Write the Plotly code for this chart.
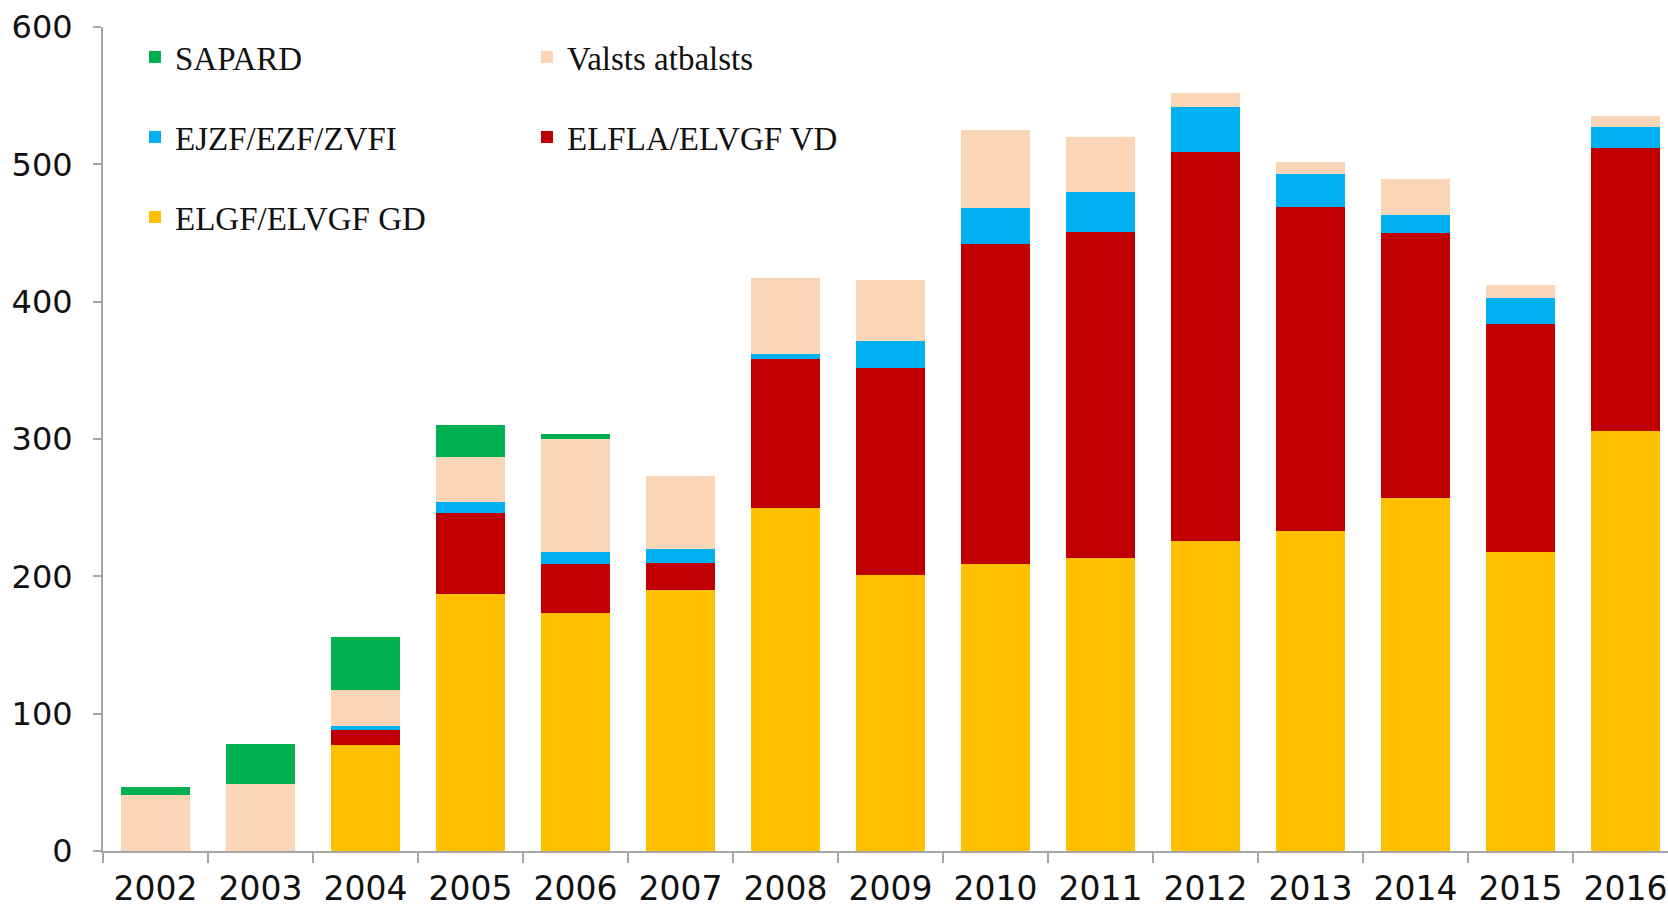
import plotly.graph_objects as go

years = ["2002", "2003", "2004", "2005", "2006", "2007", "2008", "2009",
         "2010", "2011", "2012", "2013", "2014", "2015", "2016"]

elgf = [0, 0, 77, 187, 173, 190, 250, 201, 209, 213, 226, 233, 257, 218, 306]
elfla = [0, 0, 11, 59, 36, 20, 108, 151, 233, 238, 283, 236, 193, 166, 206]
ejzf = [0, 0, 3, 8, 9, 10, 4, 19, 26, 29, 33, 24, 13, 19, 15]
valsts = [41, 49, 26, 33, 82, 53, 55, 45, 57, 40, 10, 9, 26, 9, 8]
sapard = [5.5, 29, 39, 23, 4, 0, 0, 0, 0, 0, 0, 0, 0, 0, 0]

W, H = 1668, 907
L, R, T, B = 103, 0, 27, 56
pw, ph = W - L - R, H - T - B


def px(xp):
    return (xp - L) / pw


def py(yp):
    return (H - B - yp) / ph


fig = go.Figure()
series = [
    ("ELGF/ELVGF GD", elgf, "#FFC000", "legend3"),
    ("ELFLA/ELVGF VD", elfla, "#C00000", "legend2"),
    ("EJZF/EZF/ZVFI", ejzf, "#00B0F0", "legend2"),
    ("Valsts atbalsts", valsts, "#FAD5B6", "legend"),
    ("SAPARD", sapard, "#00B050", "legend"),
]
rank = {"SAPARD": 1, "Valsts atbalsts": 2, "EJZF/EZF/ZVFI": 1,
        "ELFLA/ELVGF VD": 2, "ELGF/ELVGF GD": 1}
for name, vals, col, lg in series:
    fig.add_trace(go.Bar(
        x=years, y=vals, name=name, marker=dict(color=col, line=dict(width=0)),
        legend=lg, legendrank=rank[name], hoverinfo="x+y+name",
    ))

legfont = dict(family="Liberation Serif, Times New Roman, serif", size=33, color="#111111")
common = dict(orientation="h", xanchor="left", yanchor="middle", font=legfont,
              bgcolor="rgba(0,0,0,0)", entrywidth=347, entrywidthmode="pixels",
              traceorder="normal", itemclick=False, itemdoubleclick=False,
              tracegroupgap=0, itemwidth=30)
fig.update_layout(
    width=W, height=H,
    paper_bgcolor="white", plot_bgcolor="white",
    margin=dict(l=L, r=R, t=T, b=B, pad=0, autoexpand=False),
    barmode="stack", bargap=0.34,
    showlegend=True,
    legend=dict(x=px(135), y=py(57), **common),
    legend2=dict(x=px(135), y=py(137), **common),
    legend3=dict(x=px(135), y=py(217), **common),
    font=dict(family="DejaVu Sans, Verdana, sans-serif", color="#111111"),
)
fig.update_xaxes(
    type="category", range=[-0.5, 14.405], automargin=False,
    showline=True, linecolor="#A6A6A6", linewidth=2,
    ticks="outside", tickson="boundaries", ticklen=10, tickcolor="#A6A6A6", tickwidth=1.5,
    tickfont=dict(family="DejaVu Sans, Verdana, sans-serif", size=33, color="#111111"),
    showgrid=False, zeroline=False, ticklabelstandoff=7,
)
fig.update_yaxes(
    range=[0, 600], tickvals=[0, 100, 200, 300, 400, 500, 600], automargin=False,
    showline=True, linecolor="#A6A6A6", linewidth=2,
    ticks="outside", ticklen=8, tickcolor="#A6A6A6", tickwidth=1.5,
    tickfont=dict(family="DejaVu Sans, Verdana, sans-serif", size=32, color="#111111"),
    showgrid=False, zeroline=False, ticklabelstandoff=14,
)

fig.write_html("out.html", config={"displayModeBar": False},
               post_script="document.body.style.margin='0';document.body.style.overflow='hidden';")
